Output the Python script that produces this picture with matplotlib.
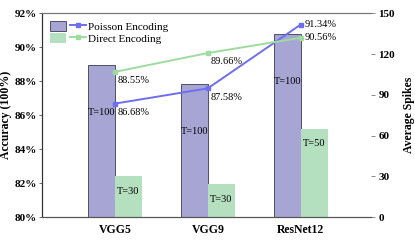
import numpy as np
import matplotlib.pyplot as plt
from matplotlib.legend_handler import HandlerTuple

plt.rcParams['font.family'] = ['Liberation Serif', 'DejaVu Serif']

# data
models = ['VGG5', 'VGG9', 'ResNet12']
poisson_acc = [86.68, 87.58, 91.34]
direct_acc = [88.55, 89.66, 90.56]
poisson_spikes = [112, 98, 135]
direct_spikes = [30, 24, 65]
poisson_T = ['T=100', 'T=100', 'T=100']
direct_T = ['T=30', 'T=30', 'T=50']

c_poisson_bar = '#a7a5d4'
c_direct_bar = '#b4e0bf'
c_poisson_line = '#6e6ef0'
c_direct_line = '#9ddc9d'

x = np.arange(len(models))
w = 0.29

fig, ax = plt.subplots(figsize=(4.15, 2.42), dpi=100)
ax2 = ax.twinx()

# bars on spikes axis
b1 = ax2.bar(x - w / 2, poisson_spikes, w, color=c_poisson_bar, edgecolor='#3a3a55', linewidth=0.6)
b2 = ax2.bar(x + w / 2, direct_spikes, w, color=c_direct_bar, edgecolor='none')
for i in range(len(models)):
    ax2.text(x[i] - w / 2, poisson_spikes[i] - 35, poisson_T[i], ha='center', va='center', fontsize=7.5)
    ax2.text(x[i] + w / 2, direct_spikes[i] - 11, direct_T[i], ha='center', va='center', fontsize=7.5)

# lines on accuracy axis
ax.set_zorder(ax2.get_zorder() + 1)
ax.patch.set_visible(False)
l1, = ax.plot(x, poisson_acc, color=c_poisson_line, marker='s', markersize=3.5, linewidth=1.4)
l2, = ax.plot(x, direct_acc, color=c_direct_line, marker='s', markersize=3.5, linewidth=1.4)
for i in range(len(models)):
    last = i == len(models) - 1
    off = (3, 0) if last else (2, -3)
    va = 'center' if last else 'top'
    ax.annotate(f'{poisson_acc[i]:.2f}%', (x[i], poisson_acc[i]), xytext=off,
                textcoords='offset points', ha='left', va=va, fontsize=7.5)
    ax.annotate(f'{direct_acc[i]:.2f}%', (x[i], direct_acc[i]), xytext=off,
                textcoords='offset points', ha='left', va=va, fontsize=7.5)

ax.set_xlim(-0.78, 2.76)
ax.set_ylim(80, 92)
ax.set_yticks(np.arange(80, 93, 2))
ax.set_yticklabels([f'{v}%' for v in range(80, 93, 2)], fontweight='bold', fontsize=8)
ax.set_xticks(x)
ax.set_xticklabels(models, fontweight='bold', fontsize=8.5)
ax.set_ylabel('Accuracy (100%)', fontweight='bold', fontsize=8.5, labelpad=2)

ax2.set_ylim(0, 150)
ax2.set_yticks(np.arange(0, 151, 30))
ax2.set_yticklabels([str(v) for v in range(0, 151, 30)], fontweight='bold', fontsize=8)
ax2.set_ylabel('Average Spikes', fontweight='bold', fontsize=8.5, labelpad=6)

for a in (ax, ax2):
    a.spines['right'].set_visible(False)
    a.spines['top'].set_color('#777777')
    a.spines['bottom'].set_color('#555555')
    a.spines['left'].set_color('#333333')
ax.tick_params(axis='x', length=0, pad=5)
ax.tick_params(axis='y', length=2, width=0.6, color='#555555', pad=2)
ax2.tick_params(axis='y', length=3, width=0.6, color='#777777', pad=2)

ax.legend([(b1[0], l1), (b2[0], l2)], ['Poisson Encoding', 'Direct Encoding'],
          handler_map={tuple: HandlerTuple(ndivide=None, pad=0.3)},
          loc='upper left', frameon=False, fontsize=8, handlelength=3.2,
          handleheight=1.0, labelspacing=0.1, borderaxespad=0.3, handletextpad=0.2)

fig.subplots_adjust(left=0.102, right=0.895, top=0.945, bottom=0.103)
fig.savefig('out.png', dpi=100)
